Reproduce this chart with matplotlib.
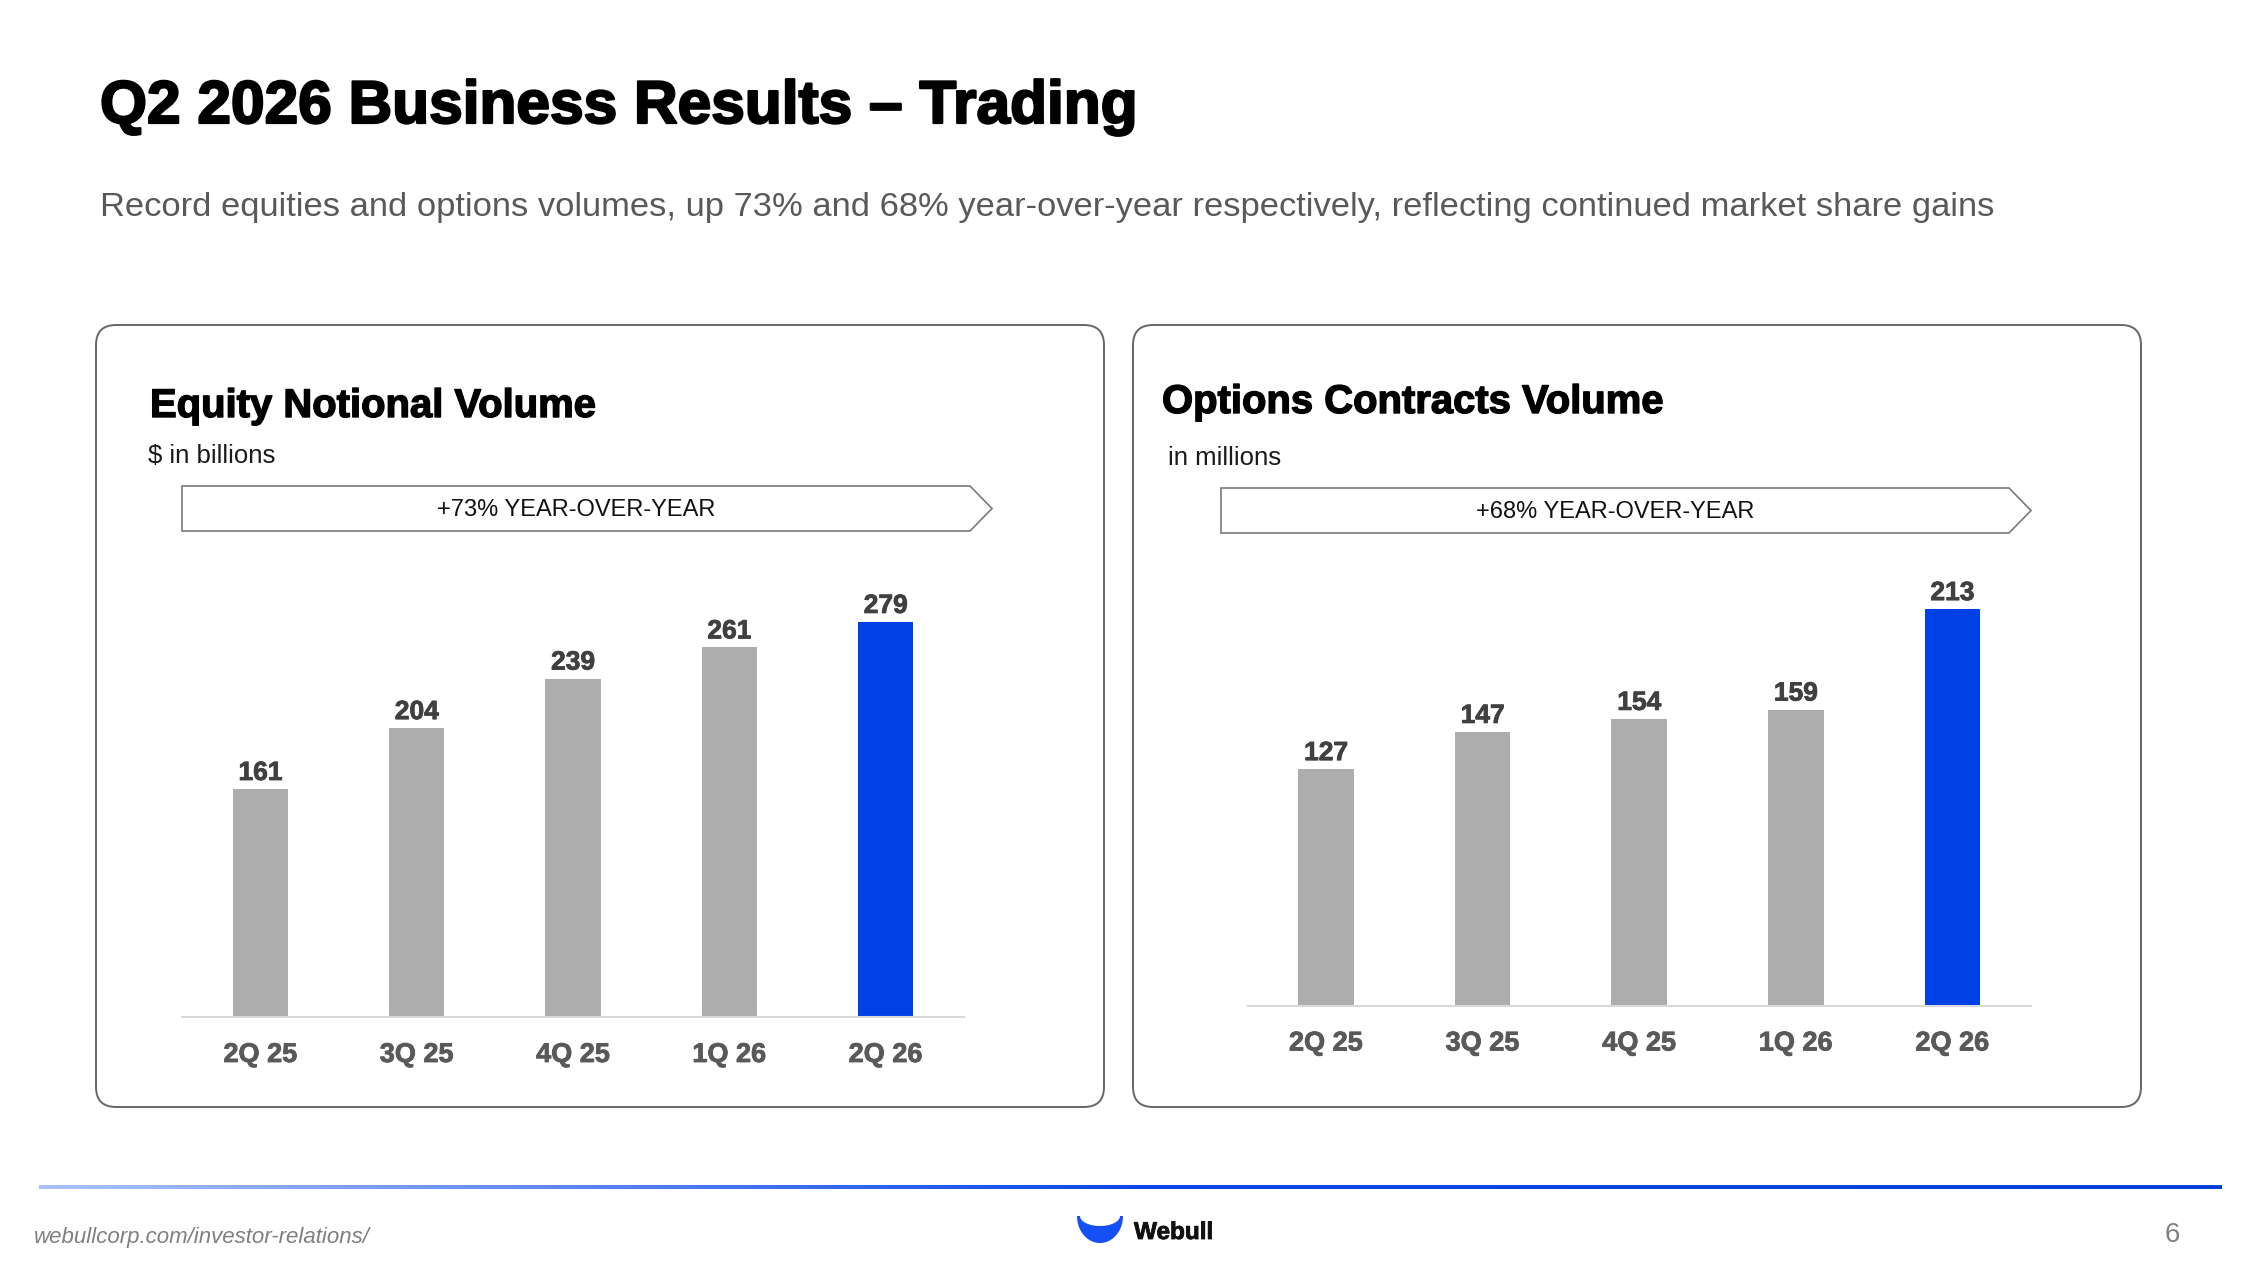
import numpy as np
import matplotlib
matplotlib.use('Agg')
import matplotlib.pyplot as plt
from matplotlib.patches import FancyBboxPatch, Polygon
from matplotlib.colors import LinearSegmentedColormap
import matplotlib.patheffects as pe

plt.rcParams['font.family'] = ['Liberation Sans', 'DejaVu Sans']

# 数据
quarters = ['2Q 25', '3Q 25', '4Q 25', '1Q 26', '2Q 26']
equity_volume = [161, 204, 239, 261, 279]      # $ in billions
options_volume = [127, 147, 154, 159, 213]     # in millions
equity_yoy = '+73% YEAR-OVER-YEAR'
options_yoy = '+68% YEAR-OVER-YEAR'

W, H = 2267, 1275
GRAY = '#ADADAD'
BLUE = '#0041E6'

fig = plt.figure(figsize=(W / 100, H / 100), dpi=100)
fig.patch.set_facecolor('white')

# 背景层，像素坐标
bg = fig.add_axes([0, 0, 1, 1], zorder=0)
bg.set_xlim(0, W)
bg.set_ylim(H, 0)
bg.axis('off')

heavy = [pe.withStroke(linewidth=1.6, foreground='black')]

bg.text(100, 123, 'Q2 2026 Business Results – Trading', fontsize=43.5, fontweight='bold',
        color='black', va='baseline', ha='left', path_effects=heavy)
bg.text(100, 216, 'Record equities and options volumes, up 73% and 68% year-over-year '
        'respectively, reflecting continued market share gains',
        fontsize=24.8, color='#595959', va='baseline', ha='left')

# 两个圆角面板
for x0 in (96, 1133):
    bg.add_patch(FancyBboxPatch((x0, 325), 1008, 782,
                                boxstyle='round,pad=0,rounding_size=20',
                                fc='white', ec='#666666', lw=1.4))

# 面板标题
title_fx = [pe.withStroke(linewidth=1.0, foreground='black')]
bg.text(150, 417, 'Equity Notional Volume', fontsize=28.8, fontweight='bold',
        va='baseline', path_effects=title_fx)
bg.text(148, 463, '$ in billions', fontsize=18.5, color='#1a1a1a', va='baseline')
bg.text(1162, 413, 'Options Contracts Volume', fontsize=28.8, fontweight='bold',
        va='baseline', path_effects=title_fx)
bg.text(1168, 465, 'in millions', fontsize=18.5, color='#1a1a1a', va='baseline')


# 箭头横幅
def banner(x0, y0, y1, label):
    tip = x0 + 810
    base = tip - 22
    ym = (y0 + y1) / 2
    bg.add_patch(Polygon([(x0, y0), (base, y0), (tip, ym), (base, y1), (x0, y1)],
                         closed=True, fc='white', ec='#7a7a7a', lw=1.2))
    bg.text((x0 + base) / 2, ym + 1, label, fontsize=17, ha='center', va='center',
            color='#111111')


banner(182, 486, 531, equity_yoy)
banner(1221, 488, 533, options_yoy)

# 底部渐变线
cmap = LinearSegmentedColormap.from_list('line', [(0, '#A9C2FF'), (0.5, '#0A46E8'), (1, '#0040DA')])
bg.imshow(np.linspace(0, 1, 512).reshape(1, -1), cmap=cmap, aspect='auto',
          extent=(39, 2222, 1189, 1185), zorder=1)

bg.text(34, 1243, 'webullcorp.com/investor-relations/', fontsize=16, style='italic',
        color='#7f7f7f', va='baseline')
bg.text(2172, 1242, '6', fontsize=20, color='#808080', ha='center', va='baseline')

# Webull logo
t = np.linspace(0, np.pi, 60)
outer = np.column_stack([1100 + 23 * np.cos(t), 1216 + 27 * np.sin(t)])
inner = np.column_stack([1100 + 20 * np.cos(t[::-1]), 1216 + 10 * np.sin(t[::-1])])
bg.add_patch(Polygon(np.vstack([outer, inner]), closed=True, fc='#1450F5', ec='none'))
bg.text(1134, 1239, 'Webull', fontsize=17.5, fontweight='bold',
        color='#111111', va='baseline',
        path_effects=[pe.withStroke(linewidth=0.6, foreground='#111111')])

bg.set_xlim(0, W)
bg.set_ylim(H, 0)


# 柱状图
def bar_panel(left, right, baseline, px_per_unit, ymax, values):
    height_px = ymax * px_per_unit
    ax = fig.add_axes([left / W, (H - baseline) / H, (right - left) / W, height_px / H], zorder=2)
    ax.patch.set_alpha(0)
    x = np.arange(len(values))
    colors = [GRAY] * (len(values) - 1) + [BLUE]
    ax.bar(x, values, width=0.355, color=colors)
    for xi, v in zip(x, values):
        ax.annotate(str(v), (xi, v), xytext=(0, 6.5), textcoords='offset points',
                    ha='center', va='baseline', fontsize=19, fontweight='bold',
                    color='#404040', annotation_clip=False,
                    path_effects=[pe.withStroke(linewidth=0.6, foreground='#404040')])
    ax.set_xlim(-0.5, len(values) - 0.5)
    ax.set_ylim(0, ymax)
    for s in ('top', 'right', 'left'):
        ax.spines[s].set_visible(False)
    ax.spines['bottom'].set_color('#D9D9D9')
    ax.spines['bottom'].set_linewidth(1.5)
    ax.set_yticks([])
    ax.set_xticks(x)
    ax.set_xticklabels(quarters, fontsize=19.5, fontweight='bold', color='#595959')
    for lbl in ax.get_xticklabels():
        lbl.set_path_effects([pe.withStroke(linewidth=0.6, foreground='#595959')])
    ax.tick_params(axis='x', length=0, pad=18)
    return ax


bar_panel(182.3, 963.8, 1017, 1.416, 300, equity_volume)
bar_panel(1247.7, 2030.7, 1005.5, 1.861, 230, options_volume)

fig.savefig('out.png', dpi=100, facecolor='white')
